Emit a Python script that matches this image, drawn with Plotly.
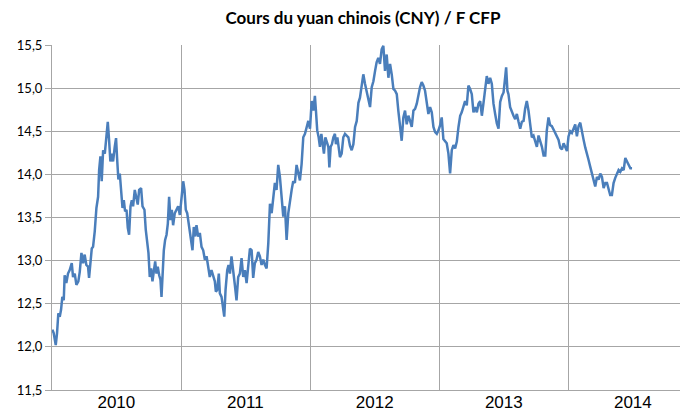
import numpy as np
import pandas as pd
import plotly.graph_objects as go

# time in years since 1 Jan 2010, and CNY rate in F CFP
t_years = [
    0.003, 0.013, 0.029, 0.039, 0.049, 0.060, 0.070, 0.080, 0.091, 0.098,
    0.111, 0.124, 0.137, 0.153, 0.163, 0.176, 0.189, 0.204, 0.215, 0.228,
    0.241, 0.253, 0.266, 0.279, 0.287, 0.297, 0.308, 0.318, 0.331, 0.344,
    0.357, 0.365, 0.375, 0.385, 0.396, 0.409, 0.421, 0.432, 0.442, 0.452,
    0.463, 0.473, 0.486, 0.496, 0.504, 0.514, 0.525, 0.535, 0.546, 0.556,
    0.566, 0.577, 0.587, 0.597, 0.608, 0.618, 0.628, 0.641, 0.654, 0.664,
    0.675, 0.690, 0.701, 0.716, 0.726, 0.737, 0.747, 0.757, 0.768, 0.778,
    0.788, 0.799, 0.809, 0.819, 0.830, 0.840, 0.848, 0.856, 0.866, 0.876,
    0.887, 0.897, 0.907, 0.918, 0.928, 0.938, 0.951, 0.964, 0.977, 0.990,
    1.003, 1.016, 1.026, 1.036, 1.047, 1.057, 1.067, 1.078, 1.088, 1.098,
    1.109, 1.119,
    1.132, 1.145, 1.158, 1.171, 1.184, 1.197, 1.210, 1.222, 1.235, 1.248,
    1.261, 1.269, 1.279, 1.292, 1.300, 1.313, 1.326, 1.334, 1.344, 1.357,
    1.367, 1.378, 1.390, 1.403, 1.416, 1.429, 1.442, 1.455, 1.468, 1.481,
    1.494, 1.507, 1.520, 1.533, 1.546, 1.558, 1.571, 1.584, 1.597, 1.610,
    1.623, 1.636, 1.649, 1.662, 1.675, 1.688, 1.701, 1.714, 1.726, 1.739,
    1.752, 1.765, 1.778, 1.791, 1.804, 1.817, 1.830, 1.843, 1.856, 1.868,
    1.881, 1.894, 1.907, 1.920,
    1.933, 1.946, 1.959, 1.972, 1.985, 1.998, 2.011, 2.024, 2.036, 2.044,
    2.054, 2.065, 2.075, 2.086, 2.096, 2.106, 2.117, 2.127, 2.140, 2.148,
    2.158, 2.168, 2.179, 2.191, 2.199, 2.210, 2.220, 2.230, 2.243, 2.256,
    2.269, 2.282, 2.295, 2.308, 2.321, 2.334, 2.347, 2.360, 2.373, 2.385,
    2.398, 2.411, 2.424, 2.437, 2.450, 2.463, 2.476, 2.489, 2.502, 2.514,
    2.527, 2.540, 2.553, 2.566, 2.579, 2.592, 2.605, 2.618, 2.631, 2.644,
    2.657, 2.670, 2.682, 2.695, 2.708, 2.721, 2.734, 2.747, 2.760, 2.773,
    2.786, 2.799, 2.812, 2.825, 2.838, 2.850, 2.863, 2.876, 2.889, 2.902,
    2.915, 2.928,
    2.941, 2.954, 2.967, 2.980, 2.993, 3.006, 3.018, 3.031, 3.044, 3.057,
    3.070, 3.083, 3.096, 3.109, 3.122, 3.135, 3.148, 3.161, 3.173, 3.186,
    3.199, 3.212, 3.225, 3.238, 3.251, 3.264, 3.277, 3.290, 3.303, 3.316,
    3.329, 3.341, 3.354, 3.367, 3.380, 3.393, 3.406, 3.419, 3.432, 3.445,
    3.458, 3.471, 3.484, 3.497, 3.509, 3.517, 3.527, 3.535, 3.548, 3.561,
    3.574, 3.587, 3.600, 3.613, 3.626, 3.639, 3.652, 3.664, 3.677, 3.690,
    3.703, 3.716, 3.729, 3.742, 3.755, 3.768, 3.781, 3.794, 3.807, 3.820,
    3.832, 3.845, 3.858,
    3.871, 3.884, 3.897, 3.910, 3.923, 3.936, 3.949, 3.962, 3.975, 3.988,
    4.000, 4.013, 4.026, 4.039, 4.052, 4.065, 4.078, 4.091, 4.104, 4.117,
    4.130, 4.143, 4.155, 4.168, 4.181, 4.194, 4.207, 4.220, 4.233, 4.246,
    4.259, 4.272, 4.285, 4.298, 4.310, 4.323, 4.336, 4.349, 4.362, 4.375,
    4.388, 4.401, 4.414, 4.427, 4.440, 4.453, 4.466, 4.479, 4.492,
]

cny_xpf = [
    12.20, 12.16, 12.02, 12.16, 12.39, 12.35, 12.43, 12.58, 12.54, 12.83,
    12.74, 12.85, 12.89, 12.97, 12.81, 12.85, 12.72, 12.76, 12.87, 13.09,
    12.97, 13.07, 12.95, 12.93, 12.80, 12.97, 13.14, 13.16, 13.34, 13.61,
    13.74, 14.05, 14.21, 13.92, 14.28, 14.24, 14.48, 14.61, 14.40, 14.15,
    14.24, 14.15, 14.32, 14.42, 14.19, 13.94, 14.01, 13.76, 13.61, 13.70,
    13.57, 13.59, 13.38, 13.30, 13.63, 13.70, 13.63, 13.82, 13.74, 13.65,
    13.82, 13.84, 13.63, 13.59, 13.36, 13.22, 13.09, 12.81, 12.91, 12.76,
    12.89, 12.99, 12.85, 12.93, 12.83, 12.78, 12.58, 12.85, 13.12, 13.24,
    13.30, 13.43, 13.74, 13.47, 13.59, 13.41, 13.55, 13.59, 13.63, 13.53,
    13.70, 13.92, 13.82, 13.59, 13.55, 13.43, 13.34, 13.24, 13.12, 13.39,
    13.28, 13.41,
    13.28, 13.32, 13.16, 13.12, 13.01, 13.05, 12.91, 12.81, 12.89, 12.83,
    12.76, 12.64, 12.66, 12.85, 12.62, 12.58, 12.39, 12.35, 12.66, 12.89,
    12.95, 12.85, 13.05, 12.91, 12.72, 12.54, 12.81, 12.85, 13.03, 12.81,
    12.89, 12.74, 12.97, 13.14, 13.12, 12.80, 12.97, 13.01, 13.10, 13.05,
    12.95, 13.01, 12.95, 12.91, 13.20, 13.66, 13.55, 13.70, 13.90, 13.82,
    14.11, 13.97, 13.70, 13.51, 13.63, 13.24, 13.55, 13.70, 13.82, 13.92,
    13.90, 14.11, 14.01, 13.93,
    14.12, 14.43, 14.47, 14.55, 14.62, 14.53, 14.85, 14.74, 14.91, 14.74,
    14.51, 14.43, 14.32, 14.47, 14.35, 14.24, 14.43, 14.39, 14.32, 14.08,
    14.32, 14.35, 14.43, 14.47, 14.35, 14.43, 14.32, 14.20, 14.24, 14.43,
    14.47, 14.45, 14.43, 14.33, 14.28, 14.35, 14.55, 14.62, 14.83, 14.89,
    15.01, 15.16, 15.05, 14.97, 14.89, 14.78, 15.01, 15.08, 15.20, 15.30,
    15.35, 15.28, 15.45, 15.49, 15.20, 15.39, 15.12, 15.28, 15.16, 14.99,
    14.97, 14.93, 14.74, 14.58, 14.39, 14.66, 14.74, 14.58, 14.68, 14.62,
    14.55, 14.74, 14.76, 14.82, 14.93, 15.01, 15.07, 15.03, 14.97, 14.85,
    14.70, 14.78,
    14.72, 14.55, 14.49, 14.47, 14.51, 14.57, 14.66, 14.41, 14.38, 14.36,
    14.24, 14.01, 14.28, 14.34, 14.30, 14.38, 14.55, 14.68, 14.72, 14.78,
    14.85, 14.80, 15.03, 14.99, 14.93, 14.72, 14.78, 14.72, 14.82, 14.85,
    14.68, 14.82, 14.99, 15.14, 15.05, 15.12, 15.05, 14.82, 14.70, 14.59,
    14.53, 14.84, 14.91, 14.95, 15.12, 15.24, 14.97, 14.93, 14.78, 14.72,
    14.68, 14.64, 14.70, 14.61, 14.53, 14.61, 14.62, 14.76, 14.85, 14.74,
    14.61, 14.43, 14.45, 14.38, 14.32, 14.45, 14.39, 14.32, 14.22, 14.22,
    14.51, 14.66, 14.57,
    14.56, 14.52, 14.48, 14.44, 14.40, 14.31, 14.29, 14.36, 14.32, 14.27,
    14.44, 14.50, 14.48, 14.54, 14.58, 14.44, 14.56, 14.60, 14.48, 14.40,
    14.31, 14.25, 14.17, 14.09, 14.01, 13.92, 13.86, 13.97, 13.94, 14.01,
    13.97, 13.84, 13.90, 13.90, 13.82, 13.76, 13.76, 13.90, 13.96, 14.00,
    14.05, 14.03, 14.07, 14.05, 14.19, 14.15, 14.11, 14.07, 14.07,
]

years = [2010, 2011, 2012, 2013, 2014]
y_ticks = [11.5, 12.0, 12.5, 13.0, 13.5, 14.0, 14.5, 15.0, 15.5]

start = pd.Timestamp("2010-01-01")
dates = start + pd.to_timedelta(np.array(t_years) * 365.25, unit="D")

grid = "#a6a6a6"

fig = go.Figure()
fig.add_trace(go.Scatter(
    x=dates, y=cny_xpf, mode="lines",
    line=dict(color="#4a7ebb", width=2.5),
    hoverinfo="skip",
))

# the page body has an 8px default margin, so shift everything up/left by 8px
fig.update_layout(
    width=680, height=412,
    margin=dict(l=44, r=0, t=37, b=30),
    paper_bgcolor="white", plot_bgcolor="white",
    separators=", ",
    showlegend=False,
    title=dict(
        text="<b>Cours du yuan chinois (CNY) / F CFP</b>",
        x=0.522, xanchor="center", y=1 - 10 / 412, yanchor="middle",
        font=dict(family="Lato", size=17, color="black"),
    ),
)

fig.update_xaxes(
    range=[start, pd.Timestamp("2014-12-05")],
    tickmode="array",
    tickvals=[pd.Timestamp(f"{y}-07-02") for y in years],
    ticktext=[str(y) for y in years],
    ticks="", ticklen=0, ticklabelstandoff=-3,
    showgrid=False,
    tickfont=dict(family="Liberation Sans", size=17, color="black"),
    showline=True, linecolor=grid, linewidth=1,
    minor=dict(
        tickmode="array",
        tickvals=[pd.Timestamp(f"{y}-01-01") for y in years[1:]],
        showgrid=True, gridcolor=grid, gridwidth=1, ticks="",
    ),
    automargin=False,
)

fig.update_yaxes(
    range=[11.5, 15.5],
    tickmode="array", tickvals=y_ticks, tickformat=".1f",
    showgrid=True, gridcolor=grid, gridwidth=1,
    ticks="outside", ticklen=6, tickcolor=grid,
    showline=True, linecolor=grid, linewidth=1,
    tickfont=dict(family="Lato", size=13, color="black"),
    zeroline=False,
    automargin=False,
)

fig.write_html("out.html")
